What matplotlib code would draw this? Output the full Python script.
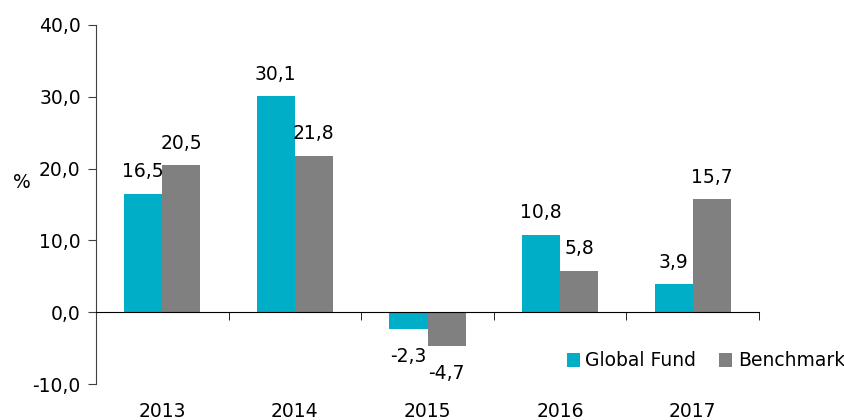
import numpy as np
import matplotlib
matplotlib.use("Agg")
import matplotlib.pyplot as plt
from matplotlib.ticker import FuncFormatter

years = ["2013", "2014", "2015", "2016", "2017"]
global_fund = [16.5, 30.1, -2.3, 10.8, 3.9]
benchmark = [20.5, 21.8, -4.7, 5.8, 15.7]

cyan = "#00AEC7"
grey = "#808080"

plt.rcParams["font.family"] = "DejaVu Sans"
plt.rcParams["font.size"] = 13.5

fig = plt.figure(figsize=(8.45, 4.2), dpi=100)
ax = fig.add_axes([96 / 845, 36 / 420, 663 / 845, 359 / 420])

x = np.arange(len(years))
w = 0.287
b1 = ax.bar(x - w / 2, global_fund, w, color=cyan, label="Global Fund")
b2 = ax.bar(x + w / 2, benchmark, w, color=grey, label="Benchmark")


def fmt(v):
    return f"{v:.1f}".replace(".", ",")


for bars, vals in [(b1, global_fund), (b2, benchmark)]:
    for rect, v in zip(bars, vals):
        cx = rect.get_x() + rect.get_width() / 2
        if v >= 0:
            ax.annotate(fmt(v), (cx, v), xytext=(0, 9), textcoords="offset points",
                        ha="center", va="bottom")
        else:
            ax.annotate(fmt(v), (cx, v), xytext=(0, -13), textcoords="offset points",
                        ha="center", va="top")

ax.set_xlim(-0.5, len(years) - 0.5)
ax.set_ylim(-10, 40)
ax.set_yticks([-10, 0, 10, 20, 30, 40])
ax.yaxis.set_major_formatter(FuncFormatter(lambda v, p: fmt(v)))

ax.spines["top"].set_visible(False)
ax.spines["right"].set_visible(False)
ax.spines["left"].set_color("#404040")
ax.spines["bottom"].set_position(("data", 0))
ax.spines["bottom"].set_color("black")

ax.set_xticks(x)
ax.set_xticklabels(years)
ax.set_xticks(np.arange(0.5, len(years)), minor=True)
ax.tick_params(axis="x", which="major", length=0, pad=65)
ax.tick_params(axis="x", which="minor", length=6, direction="out", color="black")
ax.tick_params(axis="y", length=6, direction="out", color="#404040", pad=5)

fig.text(22 / 845, 1 - 183 / 420, "%", ha="center", va="center", fontsize=13.5)

fig.legend(loc="center right", bbox_to_anchor=(1.0, 1 - 361 / 420), ncol=2,
           frameon=False, handlelength=0.7, handleheight=0.7, handletextpad=0.3,
           columnspacing=1.2, borderaxespad=0, borderpad=0)

fig.savefig("out.png", dpi=100)
